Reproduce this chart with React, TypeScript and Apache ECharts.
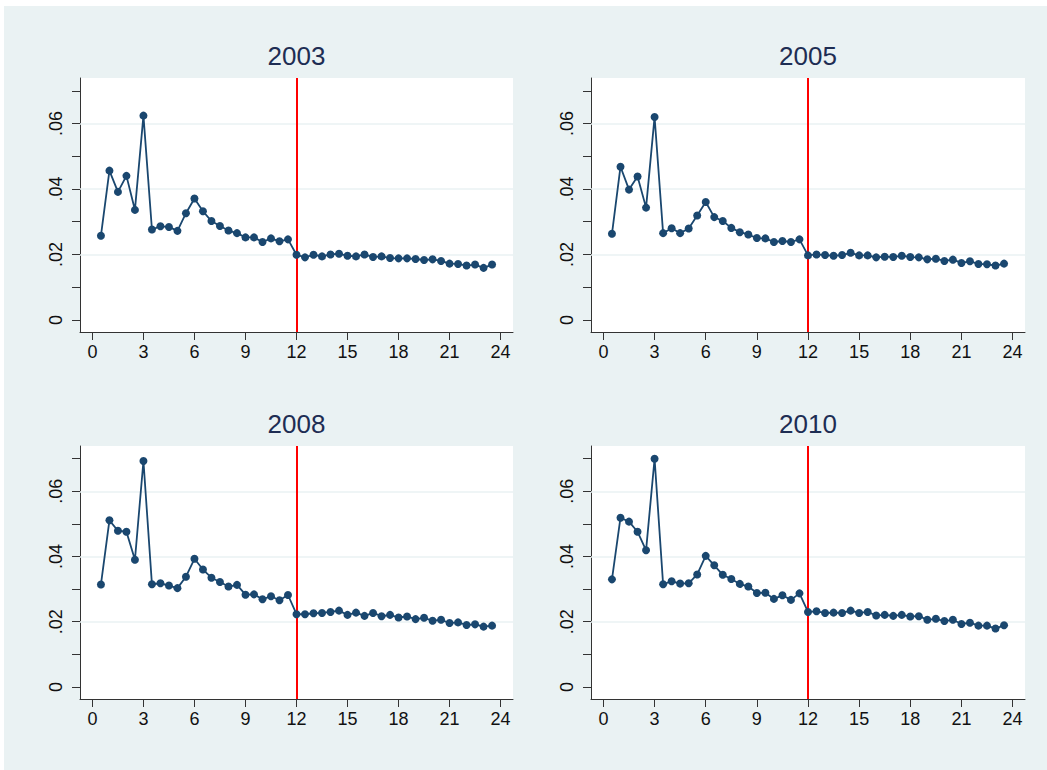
import React, { useEffect, useRef } from "react";
import * as echarts from "echarts";

// Hour marks (half-hour steps) shared by every panel
const hours = [
  0.5, 1, 1.5, 2, 2.5, 3, 3.5, 4, 4.5, 5, 5.5, 6, 6.5, 7, 7.5, 8, 8.5, 9, 9.5, 10,
  10.5, 11, 11.5, 12, 12.5, 13, 13.5, 14, 14.5, 15, 15.5, 16, 16.5, 17, 17.5, 18,
  18.5, 19, 19.5, 20, 20.5, 21, 21.5, 22, 22.5, 23, 23.5,
];

const years = ["2003", "2005", "2008", "2010"];

const values2003 = [
  0.0257, 0.0456, 0.0391, 0.044, 0.0336, 0.0624, 0.0276, 0.0286, 0.0284, 0.0272,
  0.0326, 0.0371, 0.0332, 0.0302, 0.0287, 0.0273, 0.0265, 0.0252, 0.0252, 0.0238,
  0.0249, 0.024, 0.0246, 0.0199, 0.0191, 0.0199, 0.0194, 0.02, 0.0202, 0.0196,
  0.0194, 0.02, 0.0192, 0.0194, 0.0189, 0.0188, 0.0188, 0.0186, 0.0183, 0.0185,
  0.018, 0.0172, 0.0171, 0.0166, 0.0169, 0.0159, 0.0169,
];

const values2005 = [
  0.0263, 0.0468, 0.0398, 0.0438, 0.0343, 0.062, 0.0265, 0.028, 0.0265, 0.0279,
  0.0319, 0.036, 0.0314, 0.0302, 0.0281, 0.0268, 0.0261, 0.025, 0.0249, 0.0238,
  0.0241, 0.0238, 0.0246, 0.0197, 0.02, 0.0198, 0.0196, 0.0198, 0.0205, 0.0197,
  0.0197, 0.0191, 0.0193, 0.0192, 0.0196, 0.0192, 0.0191, 0.0185, 0.0187, 0.018,
  0.0184, 0.0174, 0.0179, 0.0171, 0.017, 0.0166, 0.0172,
];

const values2008 = [
  0.0314, 0.0511, 0.0479, 0.0476, 0.039, 0.0693, 0.0315, 0.0318, 0.0311, 0.0303,
  0.0338, 0.0393, 0.036, 0.0335, 0.0322, 0.0308, 0.0313, 0.0283, 0.0284, 0.0269,
  0.0278, 0.0266, 0.0282, 0.0223, 0.0223, 0.0226, 0.0227, 0.023, 0.0234, 0.0221,
  0.0228, 0.0218, 0.0227, 0.0217, 0.0221, 0.0213, 0.0216, 0.0208, 0.0212, 0.0203,
  0.0206, 0.0196, 0.0198, 0.019, 0.0192, 0.0185, 0.0188,
];

const values2010 = [
  0.033, 0.0519, 0.0507, 0.0476, 0.0419, 0.07, 0.0315, 0.0324, 0.0317, 0.0318,
  0.0345, 0.0402, 0.0373, 0.0344, 0.0331, 0.0316, 0.0308, 0.0288, 0.0289, 0.027,
  0.0281, 0.0267, 0.0287, 0.023, 0.0232, 0.0227, 0.0228, 0.0227, 0.0234, 0.0227,
  0.023, 0.0219, 0.0221, 0.0218, 0.0221, 0.0216, 0.0217, 0.0206, 0.0209, 0.0202,
  0.0206, 0.0193, 0.0197, 0.0188, 0.0188, 0.0179, 0.0189,
];

const panelValues = [values2003, values2005, values2008, values2010];

// Axis tick / label positions
const xTicks = [0, 3, 6, 9, 12, 15, 18, 21, 24];
const yTicks = [0, 0.01, 0.02, 0.03, 0.04, 0.05, 0.06, 0.07];
const yLabels = [0, 0.02, 0.04, 0.06];
const gridLevels = [0.02, 0.04, 0.06];
const cutoffHour = 12;

const FONT = "'Liberation Sans', Arial, sans-serif";
const NAVY = "#1a476f";
const BG = "#eaf2f3";
const AXIS = "#333333";

// Plot-region boxes in pixels
const panels = [
  { left: 80, top: 78, width: 433, height: 254 },
  { left: 591, top: 78, width: 434, height: 254 },
  { left: 80, top: 446, width: 433, height: 253 },
  { left: 591, top: 446, width: 434, height: 253 },
];

export default function App() {
  const ref = useRef<HTMLDivElement>(null);

  useEffect(() => {
    if (!ref.current) return;
    const chart = echarts.init(ref.current, undefined, { renderer: "svg" });

    const grid = panels.map((p) => ({
      left: p.left,
      top: p.top,
      width: p.width,
      height: p.height,
      show: true,
      backgroundColor: "#ffffff",
      borderWidth: 0,
      containLabel: false,
    }));

    const xAxis = panels.map((_, i) => ({
      type: "value",
      gridIndex: i,
      min: -0.73,
      max: 24.73,
      axisLine: { show: true, onZero: false, lineStyle: { color: AXIS, width: 1 } },
      axisTick: {
        show: true,
        customValues: xTicks,
        length: 8,
        lineStyle: { color: AXIS, width: 1 },
      },
      axisLabel: {
        customValues: xTicks,
        fontSize: 18,
        fontFamily: FONT,
        color: "#111",
        margin: 11,
      },
      splitLine: { show: false },
    }));

    const yAxis = panels.map((_, i) => ({
      type: "value",
      gridIndex: i,
      min: -0.0037,
      max: 0.0739,
      axisLine: { show: true, onZero: false, lineStyle: { color: AXIS, width: 1 } },
      axisTick: {
        show: true,
        customValues: yTicks,
        length: 8,
        lineStyle: { color: AXIS, width: 1 },
      },
      axisLabel: {
        customValues: yLabels,
        rotate: 90,
        fontSize: 18,
        fontFamily: FONT,
        color: "#111",
        margin: 15,
        formatter: (v: number) => (v === 0 ? "0" : v.toFixed(2).replace(/^0/, "")),
      },
      splitLine: { show: false },
    }));

    const series: any[] = [];
    panels.forEach((_, i) => {
      // light horizontal gridlines behind the data
      series.push({
        type: "line",
        xAxisIndex: i,
        yAxisIndex: i,
        data: [],
        z: 1,
        silent: true,
        markLine: {
          silent: true,
          z: 1,
          symbol: ["none", "none"],
          label: { show: false },
          lineStyle: { color: BG, width: 1.5, type: "solid" },
          data: gridLevels.map((g) => ({ yAxis: g })),
        },
      });
      series.push({
        type: "line",
        xAxisIndex: i,
        yAxisIndex: i,
        data: hours.map((h, k) => [h, panelValues[i][k]]),
        symbol: "circle",
        symbolSize: 8,
        showSymbol: true,
        z: 3,
        lineStyle: { color: NAVY, width: 1.8 },
        itemStyle: { color: NAVY },
        markLine: {
          silent: true,
          z: 2,
          symbol: ["none", "none"],
          label: { show: false },
          lineStyle: { color: "#ff0000", width: 2, type: "solid" },
          data: [{ xAxis: cutoffHour }],
        },
      });
    });

    const title = panels.map((p, i) => ({
      text: years[i],
      left: p.left + p.width / 2,
      top: p.top - 35,
      textAlign: "center",
      padding: 0,
      textStyle: {
        fontSize: 26,
        fontWeight: "normal",
        fontFamily: FONT,
        color: "#1e2d53",
      },
    }));

    chart.setOption({
      animation: false,
      backgroundColor: "#ffffff",
      graphic: [
        {
          type: "rect",
          z: -10,
          shape: { x: 4, y: 6, width: 1043, height: 764 },
          style: { fill: BG },
          silent: true,
        },
      ],
      title,
      grid,
      xAxis,
      yAxis,
      series,
    });

    return () => chart.dispose();
  }, []);

  return (
    <div
      ref={ref}
      style={{ position: "fixed", left: 0, top: 0, width: 1047, height: 770 }}
    />
  );
}
